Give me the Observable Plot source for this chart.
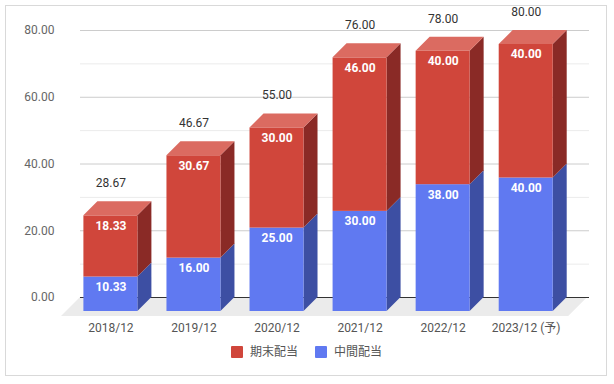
<!DOCTYPE html>
<html>
<head>
<meta charset="utf-8">
<script src="https://cdn.jsdelivr.net/npm/d3@7"></script>
<script src="https://cdn.jsdelivr.net/npm/@observablehq/plot@0.6"></script>
<style>
  html, body { margin: 0; padding: 0; background: #fff; }
  #wrap { position: relative; width: 614px; height: 384px; overflow: hidden;
          font-family: Roboto, "Noto Sans CJK JP", sans-serif; }
  #frame { position: absolute; left: 5px; top: 5px; width: 602px; height: 371px;
           border: 1px solid #d9d9d9; box-sizing: border-box; }
  #chart { position: absolute; left: 0; top: 0; }
  #legend { position: absolute; left: 231px; top: 344px; display: flex; align-items: center;
            font-size: 12px; color: #555; line-height: 16px; }
  .sw { display: inline-block; width: 12px; height: 12px; border-radius: 1px; margin-right: 7px; }
  .item { display: flex; align-items: center; margin-right: 17px; }
</style>
</head>
<body>
<div id="wrap">
  <div id="frame"></div>
  <div id="chart"></div>
  <div id="legend"></div>
</div>
<script>
// ---- data ----
const categories = ["2018/12", "2019/12", "2020/12", "2021/12", "2022/12", "2023/12 (予)"];
const interim = [10.33, 16.00, 25.00, 30.00, 38.00, 40.00];   // 中間配当
const yearEnd = [18.33, 30.67, 30.00, 46.00, 40.00, 40.00];   // 期末配当
const totals  = [28.67, 46.67, 55.00, 76.00, 78.00, 80.00];
const seriesNames = ["期末配当", "中間配当"];
const yTicks = [0, 20, 40, 60, 80];
const yMinor = [10, 30, 50, 70];

// ---- styling ----
const colors = {
  "中間配当": {front: "#6079f1", side: "#3d4fa3", top: "#7f93f4"},
  "期末配当": {front: "#d0463b", side: "#8a2a26", top: "#db6b61"}
};

// ---- geometry (pixels -> data units) ----
const W = 614, H = 340, mL = 80, mR = 25, mT = 30, mB = 43;
const xDomain = [-0.366, 5.762];
const yDomain = [0, 80];
const pxX = (W - mL - mR) / (xDomain[1] - xDomain[0]);
const pxY = (H - mT - mB) / (yDomain[1] - yDomain[0]);
const BAR_W = 54 / pxX;
const DX = 14 / pxX, DY = 14 / pxY;
const FDX = 19 / pxX, FDY = 19 / pxY;

const idx = categories.map((_, i) => i);
const segs = [];
idx.forEach(i => {
  segs.push({i, s: "中間配当", y1: 0, y2: interim[i], v: interim[i]});
  segs.push({i, s: "期末配当", y1: interim[i], y2: interim[i] + yearEnd[i], v: yearEnd[i]});
});
const sidePts = segs.flatMap((d, k) => [
  {k, s: d.s, x: d.i + BAR_W / 2, y1: d.y1 - DY, y2: d.y2 - DY},
  {k, s: d.s, x: d.i + BAR_W / 2 + DX, y1: d.y1, y2: d.y2}
]);
const tops = segs.filter(d => d.s === "期末配当");
const topPts = tops.flatMap((d, k) => [
  {k, y: d.y2 - DY, xa: d.i - BAR_W / 2, xb: d.i + BAR_W / 2},
  {k, y: d.y2, xa: d.i - BAR_W / 2 + DX, xb: d.i + BAR_W / 2 + DX}
]);
const floorPts = [
  {y: 0, xa: xDomain[0], xb: 5.74},
  {y: -FDY, xa: xDomain[0] - FDX, xb: 5.74 - FDX}
];

const chart = Plot.plot({
  width: W, height: H,
  marginLeft: mL, marginRight: mR, marginTop: mT, marginBottom: mB,
  style: {fontFamily: 'Roboto, "Noto Sans CJK JP", sans-serif', fontSize: "12px", background: "transparent", overflow: "visible"},
  x: {type: "linear", domain: xDomain, axis: null},
  y: {domain: yDomain, axis: null},
  marks: [
    Plot.area(floorPts, {y1: "y", x1: "xa", x2: "xb", fill: "#ebebeb"}),
    Plot.ruleY(yMinor, {stroke: "#ebebeb"}),
    Plot.ruleY(yTicks.filter(t => t > 0), {stroke: "#cccccc"}),
    Plot.ruleY([0], {stroke: "#333333"}),
    Plot.axisY({ticks: yTicks, tickFormat: d3.format(".2f"), tickSize: 0, tickPadding: 26,
                fill: "#666", fontSize: 12}),
    Plot.area(sidePts, {x1: "x", y1: "y1", y2: "y2", z: "k", fill: d => colors[d.s].side}),
    Plot.rect(segs, {x1: d => d.i - BAR_W / 2, x2: d => d.i + BAR_W / 2,
                     y1: d => d.y1 - DY, y2: d => d.y2 - DY, fill: d => colors[d.s].front}),
    Plot.area(topPts, {y1: "y", x1: "xa", x2: "xb", z: "k", fill: colors["期末配当"].top}),
    Plot.text(segs, {x: "i", y: "y2", dy: 24, text: d => d3.format(".2f")(d.v),
                     fill: "white", fontWeight: "bold", fontSize: 12}),
    Plot.text(idx, {x: i => i, y: i => interim[i] + yearEnd[i], dy: -18.5,
                    text: i => d3.format(".2f")(totals[i]), fill: "#333", fontSize: 12}),
    Plot.text(idx, {x: i => i, y: 0, dy: 31, text: i => categories[i], fill: "#555", fontSize: 12})
  ]
});
document.getElementById("chart").appendChild(chart);

const legend = document.getElementById("legend");
seriesNames.forEach(name => {
  const item = document.createElement("span");
  item.className = "item";
  const sw = document.createElement("span");
  sw.className = "sw";
  sw.style.background = colors[name].front;
  item.appendChild(sw);
  item.appendChild(document.createTextNode(name));
  legend.appendChild(item);
});
</script>
</body>
</html>
